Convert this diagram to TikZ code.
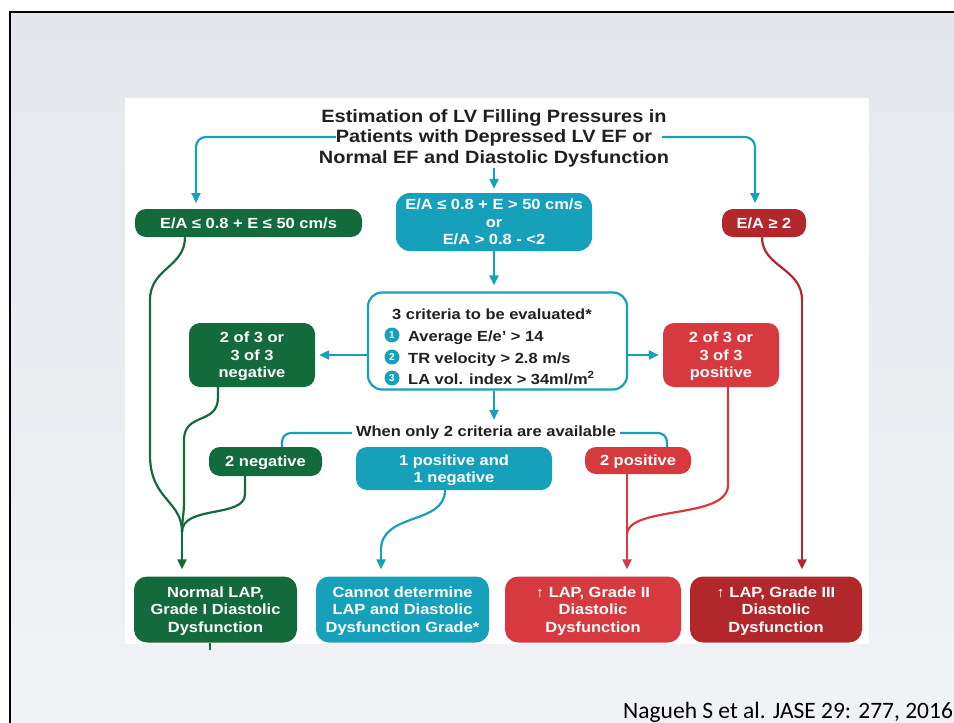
\documentclass[tikz,border=0pt]{standalone}
\usepackage{fontspec}
\setmainfont{Liberation Sans}
\newfontfamily\bfont[FakeStretch=1.12]{Liberation Sans}
\newfontfamily\footfont{Carlito}
\usetikzlibrary{arrows.meta}
\definecolor{cgreen}{HTML}{136A3B}
\definecolor{cteal}{HTML}{17A0BA}
\definecolor{cred}{HTML}{D63A3F}
\definecolor{cdred}{HTML}{B2282A}
\definecolor{ctitle}{HTML}{231F20}
\definecolor{bgtop}{HTML}{E4E7ED}
\definecolor{bgbot}{HTML}{F1F2F5}
\begin{document}
\begin{tikzpicture}[x=1pt,y=-1pt,
  box/.style={rounded corners=11pt, text=white, align=center, inner sep=0pt,
    font=\bfont\bfseries\fontsize{14.7}{17.5}\selectfont, text height=10.5pt, text depth=0pt},
  two/.style={text height=28pt},
  three/.style={text height=45.5pt},
  gbox/.style={box, fill=cgreen},
  tbox/.style={box, fill=cteal},
  rbox/.style={box, fill=cred},
  dbox/.style={box, fill=cdred},
  btext/.style={text=ctitle, inner sep=0pt, font=\bfont\bfseries\fontsize{14.7}{17.5}\selectfont},
  arr/.style={-{Triangle[length=10pt,width=9pt]}},
  tline/.style={draw=cteal, line width=2.2pt},
  gline/.style={draw=cgreen, line width=2.2pt},
  rline/.style={draw=cred, line width=2.2pt},
  dline/.style={draw=cdred, line width=2.2pt},
  num/.style={circle, fill=cteal, text=white, inner sep=0pt, minimum size=15pt,
    font=\bfseries\fontsize{10}{10}\selectfont}
]
\useasboundingbox (0,0) rectangle (954,723);
% slide background
\fill[white] (0,0) rectangle (954,723);
\shade[top color=bgtop, bottom color=bgbot] (10,12) rectangle (954,723);
\draw[black, line width=2.5pt] (10,723) -- (10,12) -- (954,12);
\fill[white] (125,98) rectangle (869,644);

% title
\node[text=ctitle, align=center, inner sep=0pt, font=\bfont\bfseries\fontsize{17.8}{20.5}\selectfont,
  text height=53.7pt, text depth=0pt]
  (title) at (494,136.5) {Estimation of LV Filling Pressures in\\Patients with Depressed LV EF or\\Normal EF and Diastolic Dysfunction};

% first row
\node[gbox, minimum width=227pt, minimum height=28pt] (n1) at (248.5,223) {E/A ≤ 0.8 + E ≤ 50 cm/s};
\node[tbox, three, minimum width=196pt, minimum height=58pt, rounded corners=14pt] (n2) at (494,222) {E/A ≤ 0.8 + E > 50 cm/s\\or\\E/A > 0.8 - <2};
\node[dbox, minimum width=84pt, minimum height=28pt] (n3) at (764,223) {E/A ≥ 2};

% criteria
\node[draw=cteal, line width=2.2pt, fill=white, rounded corners=14pt, minimum width=259pt, minimum height=97pt] (crit) at (497.5,341) {};
\node[btext, anchor=base west] (ch) at (392,319) {3 criteria to be evaluated*};
\node[num] (c1) at (392,335) {1};
\node[num] (c2) at (392,357) {2};
\node[num] (c3) at (392,378) {3};
\node[btext, anchor=base west] (i1) at (408,341) {Average E/e’ > 14};
\node[btext, anchor=base west] (i2) at (408,363) {TR velocity > 2.8 m/s};
\node[btext, anchor=base west] (i3) at (408,384) {LA vol. index > 34ml/m\textsuperscript{2}};

\node[gbox, three, minimum width=126pt, minimum height=64pt] (g2) at (252,355) {2 of 3 or\\3 of 3\\negative};
\node[rbox, three, minimum width=116pt, minimum height=64pt] (r2) at (721,355) {2 of 3 or\\3 of 3\\positive};

% only 2 criteria
\node[btext] (avail) at (486,433) {When only 2 criteria are available};
\node[gbox, minimum width=113pt, minimum height=29pt] (neg2) at (265.5,461.5) {2 negative};
\node[tbox, two, minimum width=196pt, minimum height=43pt] (pn) at (454,468.5) {1 positive and\\1 negative};
\node[rbox, minimum width=106pt, minimum height=27pt] (pos2) at (638,460.5) {2 positive};

% bottom row
\node[gbox, three, minimum width=163pt, minimum height=66pt, rounded corners=13pt] (b1) at (215.5,609.5) {Normal LAP,\\Grade I Diastolic\\Dysfunction};
\node[tbox, three, minimum width=173pt, minimum height=66pt, rounded corners=13pt] (b2) at (402.5,609.5) {Cannot determine\\LAP and Diastolic\\Dysfunction Grade*};
\node[rbox, three, minimum width=176pt, minimum height=66pt, rounded corners=13pt] (b3) at (593,609.5) {↑ LAP, Grade II\\Diastolic\\Dysfunction};
\node[dbox, three, minimum width=172pt, minimum height=66pt, rounded corners=13pt] (b4) at (776,609.5) {↑ LAP, Grade III\\Diastolic\\Dysfunction};

% footer
\node[anchor=base west, inner sep=0pt, text=black, font=\footfont\fontsize{23.5}{25}\selectfont] (foot) at (623,718) {Nagueh S et al. JASE 29: 277, 2016};

% connectors from title
\coordinate (tL) at (336,137);
\coordinate (tR) at (662,137);
\coordinate (n1t) at (196,209);
\coordinate (n3t) at (755,209);
\draw[tline, arr, rounded corners=10pt, shorten >=6pt] (tL) -| (n1t);
\draw[tline, arr, rounded corners=10pt, shorten >=6pt] (tR) -| (n3t);
\draw[tline, arr, shorten <=4pt, shorten >=4pt] (title.south) -- (n2.north);
\draw[tline, arr, shorten >=6pt] (n2.south) -- (n2.south |- crit.north);
\draw[tline, arr, shorten >=4pt] (crit.west |- g2.east) -- (g2.east);
\draw[tline, arr, shorten >=4pt] (crit.east |- r2.west) -- (r2.west);
\draw[tline, arr, shorten >=6pt] (crit.south -| n2.south) -- (n2.south |- avail.north);
\draw[tline, rounded corners=9pt, shorten <=4pt] (avail.west) -| (neg2.north -| 282,0);
\draw[tline, rounded corners=9pt, shorten <=4pt] (avail.east) -| (pos2.north -| 667,0);

% green paths
\coordinate (m1) at (182,532);
\draw[gline] ([xshift=-63.5pt]n1.south) .. controls +(0,30) and (150,268) .. (150,300) -- (150,455) .. controls (150,500) and (182,500) .. (m1);
\draw[gline] ([xshift=-34pt]g2.south) -- +(0,10) .. controls +(0,28) and (184,412) .. (184,440) -- (184,500) .. controls (184,515) and (182,520) .. (m1);
\draw[gline] ([xshift=-20.5pt]neg2.south) -- +(0,18) .. controls +(0,24) and (182,505) .. (m1);
\draw[gline, arr, shorten >=7pt] (m1) -- (m1 |- b1.north);
\draw[gline] ([xshift=-5.5pt]b1.south) -- +(0,7);

% teal path
\coordinate (m2) at (381,550);
\draw[tline] ([xshift=-9pt]pn.south) .. controls +(0,35) and (381,512) .. (m2);
\draw[tline, arr, shorten >=7pt] (m2) -- (m2 |- b2.north);

% red paths
\coordinate (m3) at (627,535);
\draw[rline] ([xshift=7pt]r2.south) -- (728,485) .. controls (728,520) and (627,505) .. (m3);
\path ([xshift=-11pt]pos2.south) coordinate (p2s);
\draw[rline, arr, shorten >=7pt] (p2s) -- (p2s |- b3.north);

% dark red path
\coordinate (m4) at (802,300);
\draw[dline] ([xshift=-2pt]n3.south) .. controls +(0,30) and (802,268) .. (m4);
\draw[dline, arr, shorten >=7pt] (m4) -- (m4 |- b4.north);
\end{tikzpicture}
\end{document}
